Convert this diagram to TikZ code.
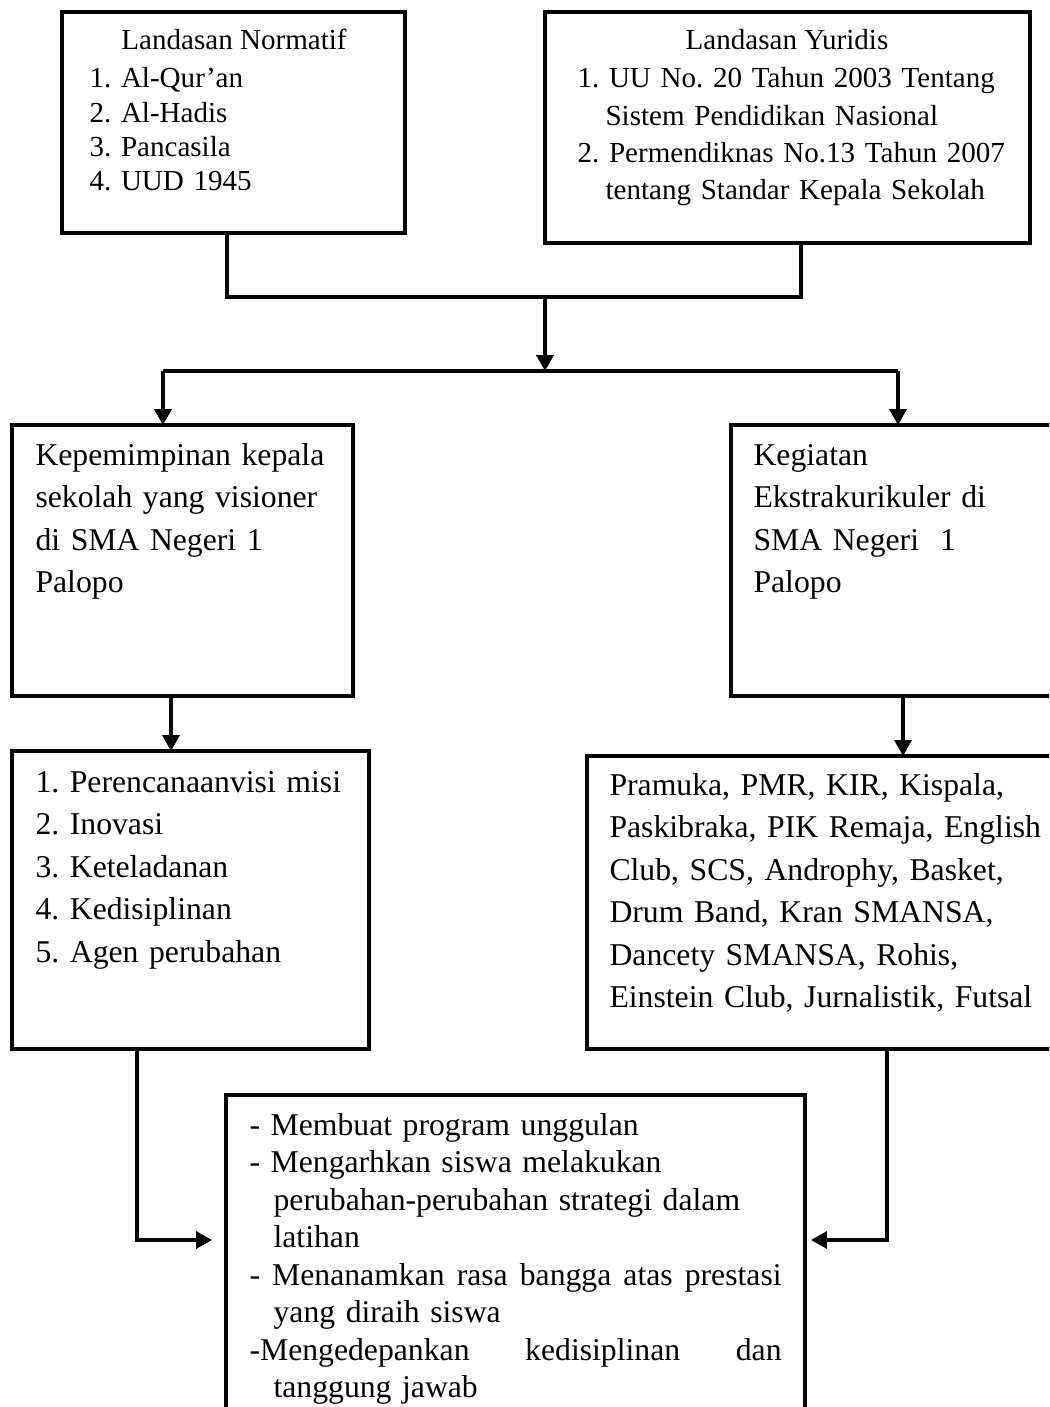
\documentclass[tikz,border=0pt]{standalone}
\usepackage{fontspec}
\setmainfont{Liberation Serif}
\usetikzlibrary{arrows.meta,calc}
\frenchspacing

\def\px{0.3785pt}

\begin{document}
\begin{tikzpicture}[x=0.3785pt, y=-0.3785pt, font=\fontsize{12}{16.1}\selectfont]
  \tikzstyle{box}=[draw, line width=1.7pt, rectangle, inner sep=0pt, outer sep=0pt, anchor=north west]
  \tikzstyle{txt}=[inner sep=0pt, anchor=base west, align=left, text width=560*\px]
  \tikzstyle{conn} = [draw, line width=1.3pt]
  \tikzstyle{dir_edge} = [draw, -{Triangle[length=6pt,width=6.4pt]}, line width=1.3pt]

  % page
  \useasboundingbox (0,0) rectangle (1049,1407);
  \clip (0,0) rectangle (1049,1407);

  % the boxes (some run off the page)
  \foreach \name/\x/\y/\w/\h in
    {
      norm/62/12/343/221,
      yur/545/12/485/231,
      lead/12/425/341/271,
      ekstra/731/425/344/271,
      indik/12/751/357/298,
      club/587/756/600/293,
      result/226/1095/579/340%
    }
    \node[box, minimum width=\w*\px, minimum height=\h*\px] (\name) at (\x,\y) {};

  % texts
  \node[txt, anchor=base, text width=, font=\fontsize{11}{12.9}\selectfont] (normHead) at (234,50) {Landasan Normatif};
  \node[txt, font=\fontsize{11}{12.9}\selectfont] (normList) at (89,88)
    {1. Al-Qur'an\\2. Al-Hadis\\3. Pancasila\\4. UUD 1945};
  \node[txt, anchor=base, text width=, font=\fontsize{11}{14.1}\selectfont] (yurHead) at (787,50) {Landasan Yuridis};
  \node[txt, font=\fontsize{11}{14.1}\selectfont] (yurList) at (577,88)
    {1. UU No. 20 Tahun 2003 Tentang\\
     \hspace*{10.6pt}Sistem Pendidikan Nasional\\
     2. Permendiknas No.13 Tahun 2007\\
     \hspace*{10.6pt}tentang Standar Kepala Sekolah};

  \node[txt] (leadTxt) at (35,465)
    {Kepemimpinan kepala\\sekolah yang visioner\\di SMA Negeri 1\\Palopo};
  \node[txt] (ekstraTxt) at (753,465)
    {Kegiatan\\Ekstrakurikuler di\\SMA Negeri\ \ 1\\Palopo};
  \node[txt] (indikTxt) at (35,792)
    {1. Perencanaanvisi misi\\2. Inovasi\\3. Keteladanan\\4. Kedisiplinan\\5. Agen perubahan};
  \node[txt] (clubTxt) at (609,795)
    {Pramuka, PMR, KIR, Kispala,\\Paskibraka, PIK Remaja, English\\Club, SCS, Androphy, Basket,\\
     Drum Band, Kran SMANSA,\\Dancety SMANSA, Rohis,\\Einstein Club, Jurnalistik, Futsal};
  \node[txt, font=\fontsize{12}{14.2}\selectfont] (resultTxt) at (249,1135)
    {- Membuat program unggulan\\
     - Mengarhkan siswa melakukan\\
     \hspace*{9.1pt}perubahan-perubahan strategi dalam\\
     \hspace*{9.1pt}latihan\\
     \makebox[201.4pt][s]{-\hfill Menanamkan\hfill rasa\hfill bangga\hfill atas\hfill prestasi}\\
     \hspace*{9.1pt}yang diraih siswa\\
     \makebox[201.4pt][s]{-Mengedepankan\hfill kedisiplinan\hfill dan}\\
     \hspace*{9.1pt}tanggung jawab};

  % joints
  \coordinate (jL) at (227,297);
  \coordinate (jR) at (801,297);
  \coordinate (jM) at (545,297);
  \coordinate (sL) at (163,371);
  \coordinate (sR) at (898,371);
  \coordinate (cY) at (0,1240);
  \path (lead.south) ++(-11.5,0) coordinate (lOut);
  \path (indik.south) ++(-53.5,0) coordinate (iOut);

  % connect boxes
  \path[conn] (norm.south -| jL) -- (jL) -- (jR) -- (yur.south -| jR);
  \path[dir_edge] (jM) -- (jM |- sL);
  \path[conn] (sL) -- (sR);
  \foreach \source/ \dest in
    {
      sL/lead,
      sR/ekstra,
      lOut/indik,
      ekstra.south/club%
    }
    \path[dir_edge] (\source) -- (\source |- \dest.north);

  \path[dir_edge, shorten >=5.3pt] (iOut) -- (iOut |- cY) -- (result.west |- cY);
  \path[dir_edge, shorten >=2.3pt] (club.south) -- (club.south |- cY) -- (result.east |- cY);

\end{tikzpicture}
\end{document}
